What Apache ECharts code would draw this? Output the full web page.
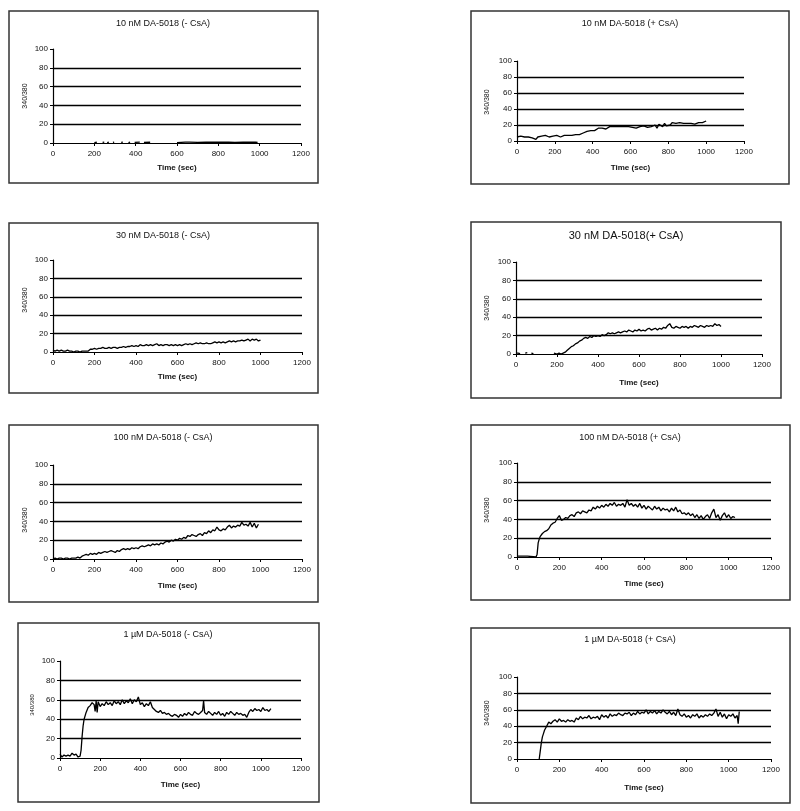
<!DOCTYPE html>
<html><head><meta charset="utf-8">
<script src="https://cdn.jsdelivr.net/npm/echarts@6/dist/echarts.min.js"></script>
<style>html,body{margin:0;padding:0;background:#fff}#c{width:800px;height:811px}</style>
</head><body><div id="c"></div>
<script>
// ---------- text ----------
const titles = [
  '10 nM DA-5018 (- CsA)', '10 nM DA-5018 (+ CsA)',
  '30 nM DA-5018 (- CsA)', '30 nM DA-5018(+ CsA)',
  '100 nM DA-5018 (- CsA)', '100 nM DA-5018 (+ CsA)',
  '1 \u00b5M DA-5018 (- CsA)', '1 \u00b5M DA-5018 (+ CsA)'
];
const yName = '340/380';
const xName = 'Time (sec)';
const xTicks = [0, 200, 400, 600, 800, 1000, 1200];
const yTicks = [0, 20, 40, 60, 80, 100];
const gridLevels = [20, 40, 60, 80];

// ---------- data ----------
const time10 = [0,10,20,30,40,50,60,70,80,90,100,110,120,130,140,150,160,170,180,190,
  200,210,220,230,240,250,260,270,280,290,300,310,320,330,340,350,360,370,380,390,
  400,410,420,430,440,450,460,470,480,490,500,510,520,530,540,550,560,570,580,590,
  600,610,620,630,640,650,660,670,680,690,700,710,720,730,740,750,760,770,780,790,
  800,810,820,830,840,850,860,870,880,890,900,910,920,930,940,950,960,970,980,990,1000];

// 10 nM (-CsA): trace sits on the baseline, broken segments
const p1Pairs = [[200,0.5],[212,0.8],[220,null],[240,0.6],[248,0.9],[255,null],[262,0.5],[270,0.8],[276,null],
  [290,0.6],[296,0.9],[302,null],[330,0.6],[338,0.9],[345,null],[365,0.5],[373,0.9],[380,null],
  [395,0.6],[420,0.9],[430,null],[440,0.6],[470,0.8],[478,null],[600,0.5],[640,0.9],[660,1],[700,0.7],
  [740,1],[760,0.8],[790,1],[820,0.8],[850,1],[880,0.7],[920,1],[950,0.8],[980,1],[990,0.7]];

// 10 nM (+CsA)
const p2Values = [5,4,6,4,5,7,5,6,4,3, 2,5,7,6,5,7,6,5,7,6, 5,7,6,5,6,7,6,7,9,7,
  8,8,9,8,10,10,11,12,11,13, 14,13,15,16,14,16,17,15,17,18, 17,18,19,18,19,18,19,18,19,18,
  19,17,18,16,17,18,17,19,18,17, 19,18,17,20,16,21,19,18,22,19, 21,20,23,21,22,20,23,21,22,21,
  22,21,22,23,21,22,23,22,23,23, 25];

// 30 nM (-CsA)
const p3Values = [2,1,2,1,2,1,1,2,1,1, 0,1,1,0,1,1,1,1,3,3, 4,3,4,4,5,4,4,5,4,5,
  5,4,5,5,6,5,6,6,7,6, 7,6,8,7,7,8,7,8,7,8, 9,7,8,7,8,8,7,8,7,8,
  7,8,7,8,9,8,9,8,9,10, 9,10,9,9,10,9,9,10,11,10, 11,10,11,10,11,12,11,12,11,12,
  12,13,12,13,14,12,14,13,14,12, 13];

// 30 nM (+CsA)
const p4Pairs = [[0,1],[10,1],[20,0.5],[25,null],[45,1],[55,1.5],[60,null],[75,1],[85,0.5],[90,null],
  [185,1],[190,2],[200,0],[210,1],[220,0],[230,1],[240,2],[250,4],[260,6],[270,8],[280,9],[290,11],
  [300,12],[310,14],[320,15],[330,17],[340,18],[350,17],[360,19],[370,18],[380,20],[390,19],
  [400,20],[410,19],[420,21],[430,20],[440,21],[450,23],[460,22],[470,23],[480,22],[490,23],
  [500,24],[510,23],[520,24],[530,25],[540,24],[550,26],[560,25],[570,24],[580,26],[590,25],
  [600,27],[610,25],[620,26],[630,25],[640,27],[650,28],[660,26],[670,27],[680,28],[690,26],
  [700,28],[710,27],[720,29],[730,28],[740,31],[750,33],[760,29],[770,28],[780,30],[790,29],
  [800,28],[810,30],[820,29],[830,30],[840,28],[850,30],[860,29],[870,31],[880,30],[890,29],
  [900,31],[910,30],[920,29],[930,31],[940,30],[950,31],[960,30],[970,33],[980,31],[990,32],[1000,30]];

// 100 nM (-CsA)
const p5Values = [0,1,0,1,1,0,1,1,0,1, 1,1,2,1,3,4,5,4,6,5, 6,5,7,6,7,8,7,8,9,8,
  7,9,8,10,11,10,11,10,12,11, 12,11,13,14,13,14,15,14,16,15, 16,15,17,16,18,19,18,20,19,21,
  20,22,21,23,22,25,24,26,25,24, 26,27,25,28,27,30,28,31,30,34, 31,30,32,31,34,36,33,35,34,36,
  35,39,36,37,35,39,34,38,33,37, null];

// 100 nM (+CsA)
const p6Pairs = [[0,1],[10,1],[20,1],[30,1],[40,1],[50,1],[55,0],[90,0],[95,3],[100,15],[105,19],
  [110,22],[120,25],[130,27],[140,28],[150,30],[160,34],[170,36],[180,37],[190,41],[200,44],
  [210,39],[220,40],[230,42],[240,41],[250,44],[260,45],[270,43],[280,47],[290,48],[300,46],
  [310,49],[320,48],[330,47],[340,50],[350,49],[360,53],[370,51],[380,54],[390,52],[400,55],
  [410,53],[420,56],[430,54],[440,57],[450,55],[460,58],[470,54],[480,56],[490,55],[500,57],
  [510,53],[520,61],[530,55],[540,57],[550,54],[560,56],[570,53],[580,57],[590,52],[600,55],
  [610,51],[620,54],[630,52],[640,50],[650,54],[660,51],[670,53],[680,49],[690,52],[700,50],
  [710,51],[720,48],[730,52],[740,49],[750,53],[760,48],[770,50],[780,46],[790,47],[800,45],
  [810,47],[820,44],[830,46],[840,42],[850,45],[860,41],[870,44],[880,40],[890,43],[900,45],
  [910,41],[920,47],[930,51],[940,42],[950,45],[960,39],[970,44],[980,47],[990,42],[1000,45],
  [1010,41],[1020,43],[1030,42]];

// 1 uM (-CsA)
const p7Pairs = [[0,4],[10,1],[20,3],[30,2],[40,3],[50,2],[60,5],[70,3],[80,4],[90,1],[100,2],
  [105,8],[110,22],[115,33],[120,40],[130,47],[140,52],[150,54],[160,57],[170,55],[175,48],
  [180,59],[185,47],[190,58],[200,53],[210,56],[220,54],[230,58],[240,55],[250,57],[260,54],
  [270,59],[280,56],[290,58],[300,55],[310,60],[320,56],[330,59],[340,57],[350,61],[360,56],
  [370,60],[380,58],[390,63],[400,55],[410,57],[420,53],[430,56],[440,54],[450,58],[460,52],
  [470,50],[480,48],[490,47],[500,49],[510,46],[520,47],[530,45],[540,46],[550,44],[560,43],
  [570,45],[580,44],[590,42],[600,45],[610,43],[620,46],[630,44],[640,47],[650,45],[660,44],
  [670,48],[680,46],[690,45],[700,47],[710,49],[715,59],[720,47],[730,45],[740,48],[750,46],
  [760,44],[770,47],[780,45],[790,48],[800,44],[810,46],[820,43],[830,47],[840,45],[850,48],
  [860,46],[870,44],[880,47],[890,45],[900,46],[910,44],[920,45],[930,42],[940,47],[950,50],
  [960,48],[970,51],[980,49],[990,50],[1000,48],[1010,52],[1020,49],[1030,50],[1040,48],[1050,51]];

// 1 uM (+CsA)
const p8Pairs = [[105,0],[110,10],[115,20],[120,27],[125,31],[130,35],[140,40],[150,45],[160,43],
  [170,46],[180,48],[190,45],[200,49],[210,46],[220,47],[230,45],[240,48],[250,46],[260,47],
  [270,45],[280,50],[290,48],[300,52],[310,49],[320,51],[330,50],[340,53],[350,49],[360,51],
  [370,50],[380,52],[390,48],[400,54],[410,51],[420,53],[430,50],[440,55],[450,52],[460,54],
  [470,53],[480,56],[490,54],[500,53],[510,56],[520,55],[530,57],[540,53],[550,56],[560,54],
  [570,58],[580,55],[590,57],[600,56],[610,60],[620,55],[630,58],[640,56],[650,59],[660,55],
  [670,58],[680,56],[690,60],[700,57],[710,55],[720,58],[730,54],[740,57],[750,53],[760,61],
  [770,54],[780,52],[790,55],[800,51],[810,53],[820,50],[830,54],[840,52],[850,55],[860,50],
  [870,53],[880,51],[890,54],[900,52],[910,55],[920,53],[930,56],[940,61],[950,52],[960,57],
  [970,51],[980,55],[990,49],[1000,54],[1010,52],[1020,55],[1030,50],[1040,53],[1045,43],[1050,58]];

function zip(t, v) { return t.map((x, i) => [x, v[i]]); }
const seriesData = [p1Pairs, zip(time10, p2Values), zip(time10, p3Values), p4Pairs,
  zip(time10, p5Values), p6Pairs, p7Pairs, p8Pairs];

// ---------- layout (pixels) ----------
const layout = [
  {box:[9,11,309,172],  grid:[53,49,248,94],   title:[163,24],  tsize:9,  yn:[25,96],   ynSize:7, gap:21},
  {box:[471,11,318,173],grid:[517,61,227,80],  title:[630,24],  tsize:9,  yn:[487,102], ynSize:7, gap:23},
  {box:[9,223,309,170], grid:[53,260,249,92],  title:[163,236], tsize:9,  yn:[25,300],  ynSize:7, gap:21},
  {box:[471,222,310,176],grid:[516,262,246,92],title:[626,236], tsize:11, yn:[487,308], ynSize:7, gap:25},
  {box:[9,425,309,177], grid:[53,465,249,94],  title:[163,438], tsize:9,  yn:[25,520],  ynSize:7, gap:23},
  {box:[471,425,319,175],grid:[517,463,254,94],title:[630,438], tsize:9,  yn:[487,510], ynSize:7, gap:23},
  {box:[18,623,301,179],grid:[60,661,241,97],  title:[168,635], tsize:9,  yn:[32,705],  ynSize:6, gap:23},
  {box:[471,628,319,175],grid:[517,677,254,82],title:[630,640], tsize:9,  yn:[487,713], ynSize:7, gap:25}
];

const FONT = 'Liberation Sans, Arial, sans-serif';
const plain = v => String(v);
const grids = [], xAxes = [], yAxes = [], series = [], graphics = [];
layout.forEach((L, i) => {
  grids.push({left: L.grid[0], top: L.grid[1], width: L.grid[2], height: L.grid[3], containLabel: false});
  xAxes.push({
    type: 'value', gridIndex: i, min: xTicks[0], max: xTicks[xTicks.length - 1],
    interval: xTicks[1] - xTicks[0],
    axisLine: {show: true, onZero: false, lineStyle: {color: '#000', width: 1.2}},
    axisTick: {show: true, inside: false, length: 3, lineStyle: {color: '#000'}},
    axisLabel: {color: '#111', fontSize: 8, fontFamily: FONT, margin: 7, formatter: plain},
    splitLine: {show: false},
    name: xName, nameLocation: 'middle', nameGap: L.gap,
    nameTextStyle: {color: '#111', fontSize: 8, fontWeight: 'bold', fontFamily: FONT}
  });
  yAxes.push({
    type: 'value', gridIndex: i, min: yTicks[0], max: yTicks[yTicks.length - 1],
    interval: yTicks[1] - yTicks[0],
    axisLine: {show: true, onZero: false, lineStyle: {color: '#000', width: 1.2}},
    axisTick: {show: true, inside: false, length: 3, lineStyle: {color: '#000'}},
    axisLabel: {color: '#111', fontSize: 8, fontFamily: FONT, margin: 5, formatter: plain},
    splitLine: {show: false}
  });
  series.push({
    type: 'line', xAxisIndex: i, yAxisIndex: i, data: seriesData[i],
    showSymbol: false, connectNulls: false, animation: false, silent: true,
    lineStyle: {color: '#000', width: 1.3},
    markLine: {
      silent: true, animation: false, symbol: ['none', 'none'], label: {show: false},
      lineStyle: {color: '#000', width: 1.3, type: 'solid'},
      data: gridLevels.map(v => ({yAxis: v}))
    }
  });
  graphics.push({
    type: 'rect', shape: {x: L.box[0], y: L.box[1], width: L.box[2], height: L.box[3]},
    style: {fill: 'none', stroke: '#333', lineWidth: 1.5}, silent: true
  });
  graphics.push({
    type: 'text', x: L.title[0], y: L.title[1], silent: true,
    style: {text: titles[i], fontSize: L.tsize, fontFamily: FONT, fill: '#111', align: 'center', verticalAlign: 'middle'}
  });
  graphics.push({
    type: 'text', x: L.yn[0], y: L.yn[1], rotation: Math.PI / 2, silent: true,
    style: {text: yName, fontSize: L.ynSize, fontFamily: FONT, fill: '#111', align: 'center', verticalAlign: 'middle'}
  });
});

const chart = echarts.init(document.getElementById('c'), null, {renderer: 'canvas'});
chart.setOption({
  backgroundColor: '#fff', animation: false,
  grid: grids, xAxis: xAxes, yAxis: yAxes, series: series, graphic: graphics
});
</script></body></html>
